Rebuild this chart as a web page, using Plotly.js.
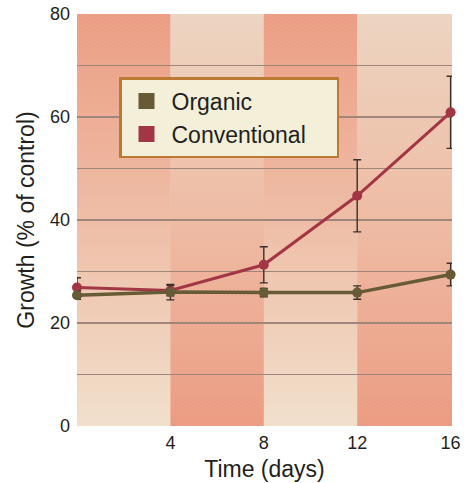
<!DOCTYPE html>
<html>
<head>
<meta charset="utf-8">
<script src="https://cdn.plot.ly/plotly-3.0.1.min.js"></script>
<style>html,body{margin:0;padding:0;background:#fff;}#chart{width:470px;height:483px;}</style>
</head>
<body>
<div id="chart"></div>
<script>
// ---- data ----
const days = [0, 4, 8, 12, 16];
const organic = [25.4, 26.0, 25.9, 25.9, 29.4];
const organicErr = [0.8, 1.5, 0.8, 1.3, 2.2];
const conventional = [26.9, 26.3, 31.3, 44.7, 60.9];
const conventionalErr = [1.9, 1.0, 3.5, 7.0, 7.0];
const seriesNames = ['Organic', 'Conventional'];
const xTicks = [4, 8, 12, 16];
const yGrid = [0, 10, 20, 30, 40, 50, 60, 70, 80];
const yLabels = ['0', '', '20', '', '40', '', '60', '', '80'];
const bandEdges = [0, 4, 8, 12, 16.06];

// ---- styles ----
const cOrganic = '#675a36';
const cConv = '#a23644';
const xMax = 16.06, yMax = 80;
const W = 375, H = 412;

// background bands (gradient + light hatching), drawn as an SVG image below gridlines
function px(v) { return (v / xMax * W).toFixed(2); }
let rects = '';
for (let i = 0; i < bandEdges.length - 1; i++) {
  const g = i % 2 === 0 ? 'gA' : 'gB';
  rects += `<rect x="${px(bandEdges[i])}" y="0" width="${(px(bandEdges[i+1]) - px(bandEdges[i]) + 0.5).toFixed(2)}" height="${H}" fill="url(#${g})"/>`;
}
const svg = `<svg xmlns="http://www.w3.org/2000/svg" width="${W}" height="${H}" viewBox="0 0 ${W} ${H}">
<defs>
<linearGradient id="gA" x1="0" y1="0" x2="0" y2="1"><stop offset="0" stop-color="#eb9c82"/><stop offset="0.5" stop-color="#eebca4"/><stop offset="1" stop-color="#f1dfcb"/></linearGradient>
<linearGradient id="gB" x1="0" y1="0" x2="0" y2="1"><stop offset="0" stop-color="#ecd4c0"/><stop offset="0.5" stop-color="#eebaa2"/><stop offset="1" stop-color="#eb9a80"/></linearGradient>
<pattern id="h" patternUnits="userSpaceOnUse" width="4" height="4">
<path d="M-1,-1 L5,5 M-1,3 L1,5 M3,-1 L5,1" stroke="#ffffff" stroke-width="0.6" stroke-opacity="0.16"/>
</pattern>
</defs>
${rects}
<rect x="0" y="0" width="${W}" height="${H}" fill="url(#h)"/>
</svg>`;
const bgSrc = 'data:image/svg+xml;charset=utf-8,' + encodeURIComponent(svg);

const font = 'Liberation Sans, Arial, Helvetica, sans-serif';
const txt = '#231f20';
const nb = '\u00a0';

const traces = [
  {
    x: days, y: conventional, type: 'scatter', mode: 'lines+markers',
    name: seriesNames[1], showlegend: false, cliponaxis: false,
    line: {color: cConv, width: 3},
    marker: {color: cConv, size: 10},
    error_y: {type: 'data', array: conventionalErr, visible: true, color: '#3b2f2c', thickness: 1.4, width: 4}
  },
  {
    x: days, y: organic, type: 'scatter', mode: 'lines+markers',
    name: seriesNames[0], showlegend: false, cliponaxis: false,
    line: {color: cOrganic, width: 3.5},
    marker: {color: cOrganic, size: 10},
    error_y: {type: 'data', array: organicErr, visible: true, color: '#3b2f2c', thickness: 1.4, width: 4}
  },
  {
    x: [null], y: [null], type: 'scatter', mode: 'markers', name: seriesNames[0] + nb.repeat(4),
    marker: {color: cOrganic, symbol: 'square', size: 19}, hoverinfo: 'skip'
  },
  {
    x: [null], y: [null], type: 'scatter', mode: 'markers', name: seriesNames[1] + nb.repeat(4),
    marker: {color: cConv, symbol: 'square', size: 19}, hoverinfo: 'skip'
  }
];

const layout = {
  width: 470, height: 483,
  margin: {l: 77, r: 18, t: 14, b: 57, pad: 0},
  paper_bgcolor: '#ffffff', plot_bgcolor: '#ffffff',
  font: {family: font, color: txt, size: 18},
  showlegend: true,
  legend: {
    x: 0.112, y: 0.847, xanchor: 'left', yanchor: 'top',
    bgcolor: '#f4efd9', bordercolor: '#bb7933', borderwidth: 2.5,
    font: {family: font, size: 23, color: txt},
    traceorder: 'normal', itemsizing: 'trace', itemwidth: 40
  },
  xaxis: {
    range: [0, xMax], tickvals: xTicks, ticktext: xTicks.map(String),
    showgrid: false, zeroline: false, showline: false, ticks: '',
    ticklabelstandoff: 4,
    tickfont: {size: 18, family: font, color: txt},
    title: {text: 'Time (days)', font: {size: 23, family: font, color: txt}, standoff: 8},
    fixedrange: true
  },
  yaxis: {
    range: [0, yMax], tickvals: yGrid, ticktext: yLabels,
    showgrid: true, gridcolor: '#a0857b', gridwidth: 1.5,
    zeroline: false, showline: false, ticks: '',
    ticklabelstandoff: 6,
    tickfont: {size: 18, family: font, color: txt},
    title: {text: 'Growth (% of control)', font: {size: 23, family: font, color: txt}, standoff: 8},
    fixedrange: true
  },
  images: [{
    source: bgSrc, xref: 'x', yref: 'y', x: 0, y: yMax, sizex: xMax, sizey: yMax,
    xanchor: 'left', yanchor: 'top', sizing: 'stretch', layer: 'below'
  }]
};

Plotly.newPlot('chart', traces, layout, {displayModeBar: false, staticPlot: true});
</script>
</body>
</html>
